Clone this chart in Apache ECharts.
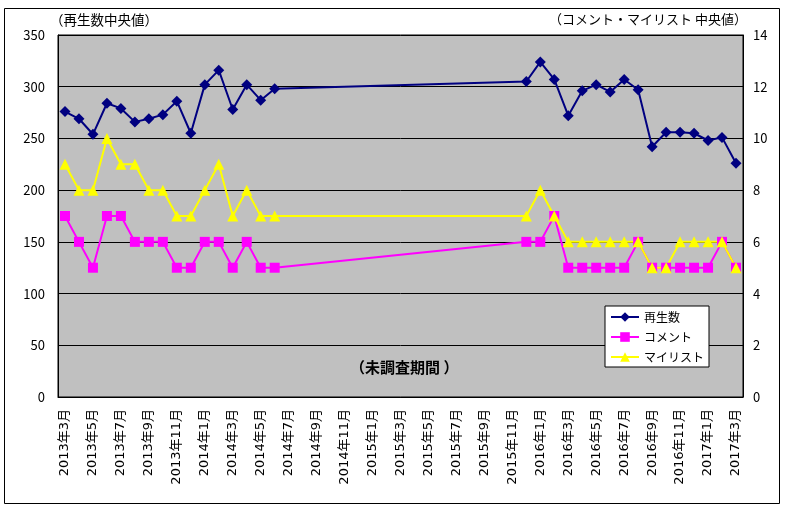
<!DOCTYPE html>
<html><head><meta charset="utf-8">
<script src="https://cdn.jsdelivr.net/npm/echarts@6/dist/echarts.min.js"></script>
<style>html,body{margin:0;padding:0;background:#fff}#c{width:800px;height:520px}</style>
</head><body><div id="c"></div>
<script>
const categories = ['2013年3月','2013年4月','2013年5月','2013年6月','2013年7月','2013年8月','2013年9月','2013年10月','2013年11月','2013年12月',
'2014年1月','2014年2月','2014年3月','2014年4月','2014年5月','2014年6月','2014年7月','2014年8月','2014年9月','2014年10月','2014年11月','2014年12月',
'2015年1月','2015年2月','2015年3月','2015年4月','2015年5月','2015年6月','2015年7月','2015年8月','2015年9月','2015年10月','2015年11月','2015年12月',
'2016年1月','2016年2月','2016年3月','2016年4月','2016年5月','2016年6月','2016年7月','2016年8月','2016年9月','2016年10月','2016年11月','2016年12月',
'2017年1月','2017年2月','2017年3月'];
const plays = [276,269,254,284,279,266,269,273,286,255,302,316,278,302,287,298,
 null,null,null,null,null,null,null,null,null,null,null,null,null,null,null,null,null,
 305,324,307,272,296,302,295,307,297,242,256,256,255,248,251,226];
const comments = [7,6,5,7,7,6,6,6,5,5,6,6,5,6,5,5,
 null,null,null,null,null,null,null,null,null,null,null,null,null,null,null,null,null,
 6,6,7,5,5,5,5,5,6,5,5,5,5,5,6,5];
const mylist = [9,8,8,10,9,9,8,8,7,7,8,9,7,8,7,7,
 null,null,null,null,null,null,null,null,null,null,null,null,null,null,null,null,null,
 7,8,7,6,6,6,6,6,6,5,5,6,6,6,6,5];
const seriesNames = ['再生数','コメント','マイリスト'];
const leftTitle = '（再生数中央値）';
const rightTitle = '（コメント・マイリスト 中央値）';
const gapNote = '（未調査期間 ）';

const FONT = '"Noto Sans CJK JP", sans-serif';
const XFONT = '"DejaVu Sans", "Noto Sans CJK JP", sans-serif';
const chart = echarts.init(document.getElementById('c'), null, {renderer:'canvas'});
chart.setOption({
  animation:false,
  backgroundColor:'#fff',
  textStyle:{fontFamily:FONT},
  grid:{left:58,right:57,top:35,bottom:123,show:true,backgroundColor:'#c0c0c0',borderColor:'#000',borderWidth:1},
  legend:{
    orient:'vertical',left:605,top:306,
    backgroundColor:'#fff',borderColor:'#000',borderWidth:1,borderRadius:0,
    padding:[5,5,4,5],itemGap:8,itemWidth:28,itemHeight:12,
    textStyle:{fontSize:12,lineHeight:12,color:'#000',fontFamily:FONT},
    data:seriesNames
  },
  xAxis:{
    type:'category',data:categories,boundaryGap:true,
    axisLine:{lineStyle:{color:'#000',width:1}},
    axisTick:{inside:true,length:4,interval:1,lineStyle:{color:'#000'}},
    axisLabel:{interval:1,rotate:90,fontSize:13,color:'#000',margin:12,fontFamily:XFONT},
    splitLine:{show:false}
  },
  yAxis:[
    {type:'value',min:0,max:350,interval:50,
     axisLine:{show:true,lineStyle:{color:'#000'}},
     axisTick:{show:false},
     axisLabel:{fontSize:13,color:'#000',margin:13,fontFamily:FONT},
     splitLine:{show:true,lineStyle:{color:'#000',width:1}}},
    {type:'value',min:0,max:14,interval:2,position:'right',
     axisLine:{show:true,lineStyle:{color:'#000'}},
     axisTick:{show:true,inside:true,length:4,lineStyle:{color:'#000'}},
     axisLabel:{fontSize:13,color:'#000',margin:10,fontFamily:FONT},
     splitLine:{show:false}}
  ],
  series:[
    {name:seriesNames[0],type:'line',yAxisIndex:0,data:plays,connectNulls:true,
     symbol:'diamond',symbolSize:11,showAllSymbol:true,
     lineStyle:{color:'#000080',width:2},itemStyle:{color:'#000080'}},
    {name:seriesNames[1],type:'line',yAxisIndex:1,data:comments,connectNulls:true,
     symbol:'rect',symbolSize:10,showAllSymbol:true,
     lineStyle:{color:'#ff00ff',width:2},itemStyle:{color:'#ff00ff'}},
    {name:seriesNames[2],type:'line',yAxisIndex:1,data:mylist,connectNulls:true,
     symbol:'triangle',symbolSize:11,showAllSymbol:true,
     lineStyle:{color:'#ffff00',width:2},itemStyle:{color:'#ffff00'}}
  ],
  graphic:[
    {type:'rect',shape:{x:4.5,y:8.5,width:775,height:495},style:{fill:'none',stroke:'#000',lineWidth:1},silent:true,z:-1},
    {type:'text',left:50,top:13,style:{text:leftTitle,font:'13.5px '+FONT,fill:'#000'}},
    {type:'text',right:53,top:13,style:{text:rightTitle,font:'13px '+FONT,fill:'#000'}},
    {type:'text',left:350,top:360,style:{text:gapNote,font:'bold 15px '+FONT,fill:'#000'},z:10}
  ]
});
</script></body></html>
